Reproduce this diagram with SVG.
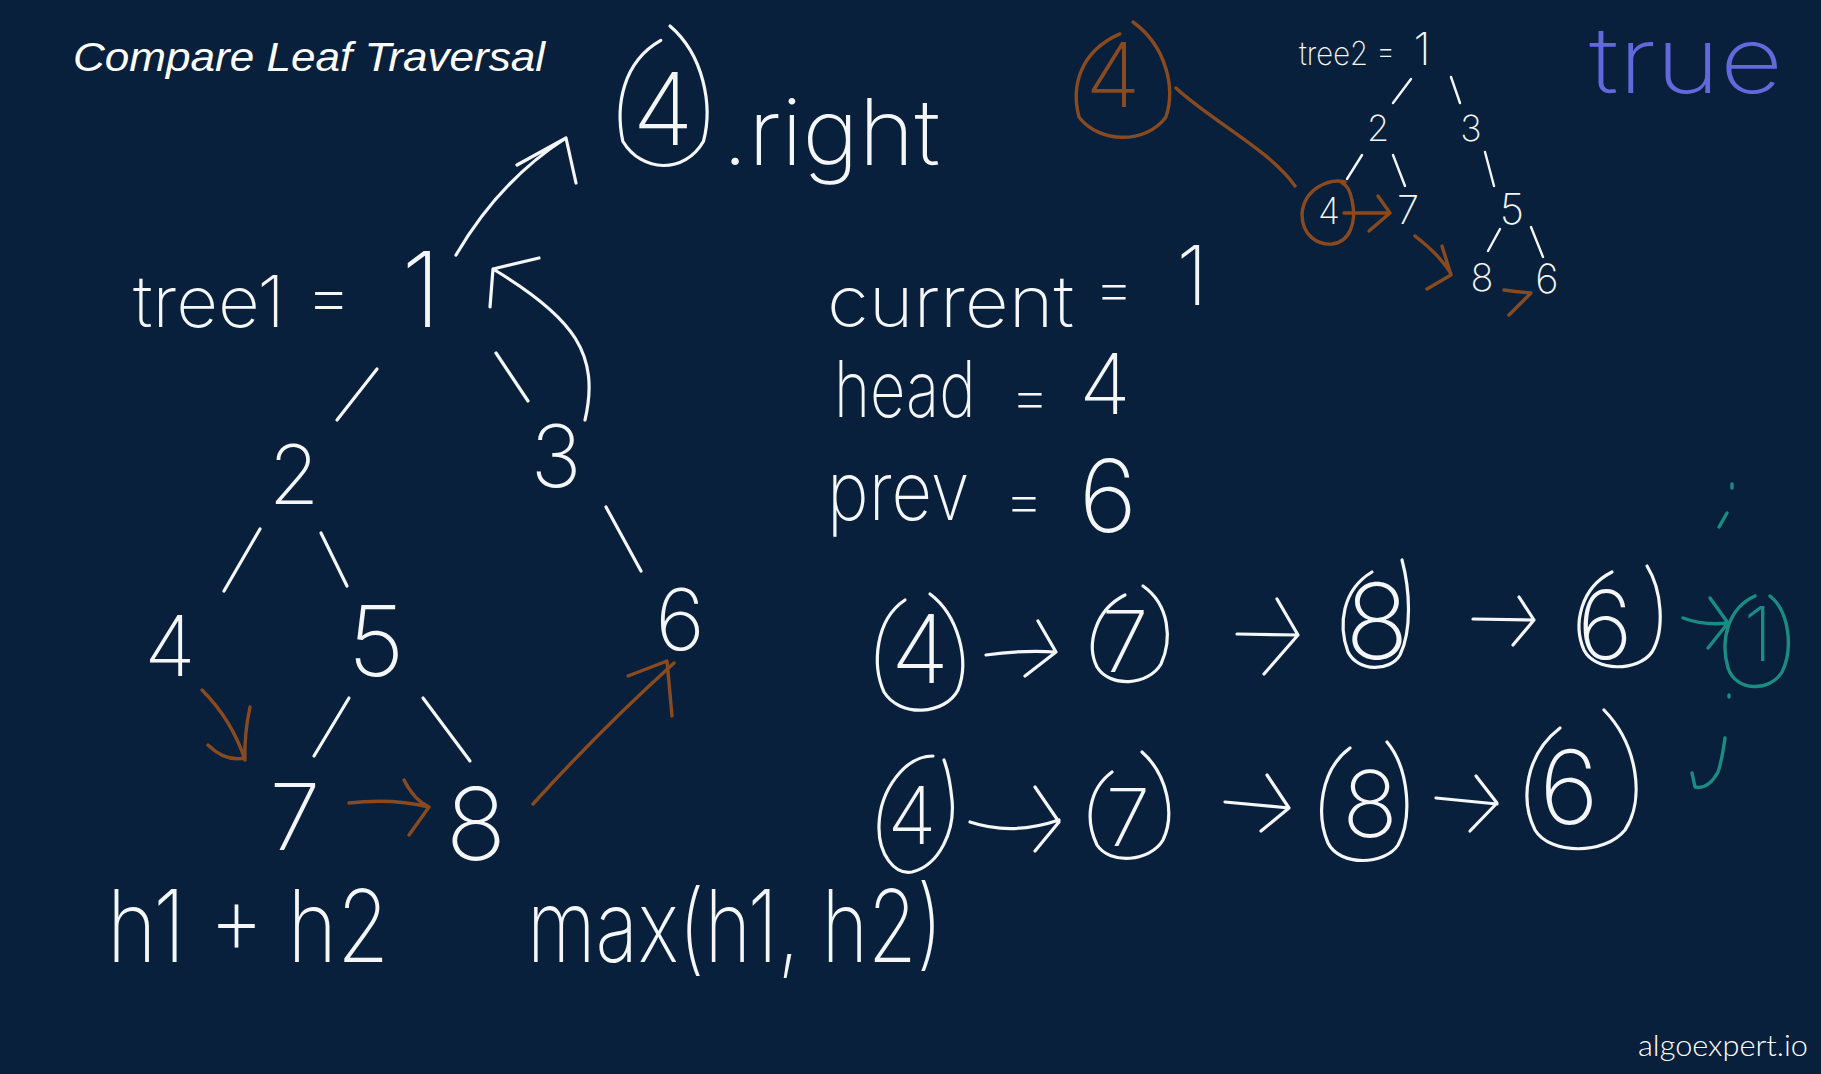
<svg xmlns="http://www.w3.org/2000/svg" width="1821" height="1074" viewBox="0 0 1821 1074">
<style>
.hw{font-family:Inter,"Open Sans","DejaVu Sans",sans-serif;font-weight:200;fill:#f4f6f8;text-anchor:middle}
.hs{font-family:Inter,"Open Sans","DejaVu Sans",sans-serif;font-weight:200;fill:#f4f6f8}
.w{fill:none;stroke:#f4f6f8;stroke-width:3.2;stroke-linecap:round;stroke-linejoin:round}
.ws{fill:none;stroke:#f4f6f8;stroke-width:2.4;stroke-linecap:round;stroke-linejoin:round}
.o{fill:none;stroke:#8a4a20;stroke-width:3.4;stroke-linecap:round;stroke-linejoin:round}
.t{fill:none;stroke:#1a8c84;stroke-width:3.4;stroke-linecap:round;stroke-linejoin:round}
</style>
<rect width="1821" height="1074" fill="#08203b"/>
<text x="73" y="71" font-family="Liberation Sans, Arial, sans-serif" font-style="italic" font-size="40" fill="#ffffff" textLength="472" lengthAdjust="spacingAndGlyphs">Compare Leaf Traversal</text>

<g id="tree1">
  <g id="t1-label"><text class="hs" x="133" y="327" font-size="72" textLength="219" lengthAdjust="spacingAndGlyphs">tree1 =</text></g>
  <g id="t1-n1"><text class="hw" x="421" y="327" font-size="104">1</text></g>
  <g id="t1-n2"><text class="hw" x="294" y="504" font-size="82">2</text></g>
  <g id="t1-n3"><text class="hw" x="556" y="487" font-size="86">3</text></g>
  <g id="t1-n4"><text class="hw" x="170" y="676" font-size="84">4</text></g>
  <g id="t1-n5"><text class="hw" x="376" y="676" font-size="98">5</text></g>
  <g id="t1-n6"><text class="hw" x="680" y="650" font-size="85">6</text></g>
  <g id="t1-n7"><text class="hw" x="295" y="850" font-size="92">7</text></g>
  <g id="t1-n8"><text class="hw" x="476" y="860" font-size="100">8</text></g>
</g>

<g id="right-expr">
  <path class="w" d="M670,26 C703.5,54.8 713,105.2 703.5,141.2 C684.5,174.3 641.8,172.9 622.8,141.2 C615.2,105.2 622.8,62 660.8,40.4"/>
  <text class="hw" x="663" y="145" font-size="100">4</text>
  <text class="hs" x="722" y="165" font-size="92" textLength="218" lengthAdjust="spacingAndGlyphs">.right</text>
</g>

<g id="vars">
  <text class="hs" x="827" y="327" font-size="72" textLength="247" lengthAdjust="spacingAndGlyphs">current</text>
  <text class="hw" x="1114" y="310" font-size="62">=</text>
  <text class="hw" x="1192" y="305" font-size="82">1</text>
  <text class="hs" transform="translate(834,417) scale(0.8,1)" x="0" y="0" font-size="78" textLength="177" lengthAdjust="spacingAndGlyphs">head</text>
  <text class="hw" x="1030" y="418" font-size="62">=</text>
  <text class="hw" x="1105" y="414" font-size="84">4</text>
  <text class="hs" transform="translate(827,520) scale(0.88,1)" x="0" y="0" font-size="82" textLength="162" lengthAdjust="spacingAndGlyphs">prev</text>
  <text class="hw" x="1024" y="522" font-size="62">=</text>
  <text class="hw" x="1108" y="532" font-size="100">6</text>
</g>

<g id="formulas">
  <text class="hs" transform="translate(107,962) scale(0.89,1)" x="0" y="0" font-size="100" textLength="317" lengthAdjust="spacingAndGlyphs">h1 + h2</text>
  <text class="hs" transform="translate(527,962) scale(0.82,1)" x="0" y="0" font-size="100" textLength="507" lengthAdjust="spacingAndGlyphs">max(h1, h2)</text>
</g>

<g id="tree2">
  <g id="t2-label"><text class="hs" x="1299" y="65" font-size="33" textLength="96" lengthAdjust="spacingAndGlyphs">tree2 =</text></g>
  <g id="t2-n1"><text class="hw" x="1422" y="65" font-size="45">1</text></g>
  <g id="t2-n2"><text class="hw" x="1378" y="141" font-size="36">2</text></g>
  <g id="t2-n3"><text class="hw" x="1471" y="141" font-size="36">3</text></g>
  <g id="t2-n4"><text class="hw" x="1329" y="224" font-size="36">4</text>
    <path class="o" d="M1345,182 C1330,178 1304,188 1302,214 C1302,236 1318,245 1332,244 C1350,242 1357,222 1352,200 C1350,190 1347,185 1342,183"/></g>
  <g id="t2-n7"><text class="hw" x="1408" y="224" font-size="40">7</text></g>
  <g id="t2-n5"><text class="hw" x="1512" y="224" font-size="42">5</text></g>
  <g id="t2-n8"><text class="hw" x="1482" y="291" font-size="38">8</text></g>
  <g id="t2-n6"><text class="hw" x="1547" y="293" font-size="40">6</text></g>
  <g id="orange-4">
    <path class="o" d="M1133,22 C1165.8,45.8 1176,87.5 1165.8,117.2 C1145.4,144.6 1099.5,143.4 1079.1,117.2 C1071,87.5 1079.1,51.8 1119.9,33.9"/>
    <text class="hw" x="1113" y="107" font-size="90" style="fill:#8a4a20">4</text>
  </g>
</g>

<g id="true-label"><text x="1589" y="93" font-family="Inter, 'Open Sans', sans-serif" font-weight="200" font-size="92" fill="#6169dc" textLength="194" lengthAdjust="spacingAndGlyphs">true</text></g>

<g id="list1">
  <g id="l1-4"><path class="w" d="M930,594 C958,615 970,660 958,690 C945,715 900,718 884,692 C872,665 875,620 905,600"/><text class="hw" x="920" y="683" font-size="95">4</text></g>
  <g id="l1-7"><path class="w" d="M1143,586 C1170,605 1172,640 1161,664 C1148,686 1110,688 1097,667 C1086,645 1095,610 1125,595"/><text class="hw" x="1125" y="672" font-size="85">7</text></g>
  <g id="l1-8"><path class="w" d="M1402,560 C1410,590 1412,630 1400,655 C1390,672 1358,672 1348,652 C1338,625 1342,590 1372,572"/><text class="hw" x="1377" y="659" font-size="105">8</text></g>
  <g id="l1-6"><path class="w" d="M1647,566 C1662,590 1665,630 1652,652 C1638,672 1595,672 1584,650 C1573,625 1580,588 1612,572"/><text class="hw" x="1605" y="659" font-size="95">6</text></g>
  <g id="l1-1"><path class="t" d="M1770,596 C1790,612 1793,650 1782,672 C1770,692 1736,692 1728,668 C1720,640 1728,608 1755,596"/><text class="hw" x="1758" y="661" font-size="75" style="fill:#1a8c84">1</text></g>
</g>

<g id="list2">
  <g id="l2-4"><path class="w" d="M933,756 C905,756 880,790 879,825 C878,855 895,875 912,872 C940,865 955,830 952,800 C950,780 947,768 944,760"/><text class="hw" x="912" y="844" font-size="80">4</text></g>
  <g id="l2-7"><path class="w" d="M1142,752 C1168,775 1175,815 1163,840 C1150,862 1110,865 1097,845 C1085,820 1088,790 1112,772"/><text class="hw" x="1128" y="846" font-size="80">7</text></g>
  <g id="l2-8"><path class="w" d="M1387,742 C1410,770 1412,820 1398,845 C1385,865 1340,867 1328,843 C1316,815 1320,770 1350,748"/><text class="hw" x="1370" y="837" font-size="92">8</text></g>
  <g id="l2-6"><path class="w" d="M1604,710 C1638,745 1645,800 1625,830 C1605,855 1550,855 1535,830 C1520,800 1525,755 1560,728"/><text class="hw" x="1569" y="824" font-size="102">6</text></g>
</g>

<g id="connectors">
  <path class="w" d="M377,369 L337,420"/>
  <path class="w" d="M496,353 L528,401"/>
  <path class="w" d="M260,529 L224,591"/>
  <path class="w" d="M321,533 L347,586"/>
  <path class="w" d="M606,507 L641,571"/>
  <path class="w" d="M349,698 L314,756"/>
  <path class="w" d="M423,698 L470,761"/>
  <path class="w" d="M456,255 Q500,180 566,138 M517,165 L566,138 L576,183"/>
  <path class="w" d="M585,420 C600,355 575,318 493,269 M539,258 L493,269 L490,307"/>
  <path class="o" d="M202,690 Q232,720 245,760 M208,745 Q225,762 245,758 M250,707 Q244,735 245,760"/>
  <path class="o" d="M349,803 Q392,798 429,807 M404,780 Q414,800 429,807 L409,835"/>
  <path class="o" d="M533,804 Q600,730 674,663 M628,676 L667,661 L672,716"/>

  <path class="ws" d="M1411,79 L1393,103"/>
  <path class="ws" d="M1451,77 L1460,103"/>
  <path class="ws" d="M1362,155 L1347,179"/>
  <path class="ws" d="M1393,155 L1405,186"/>
  <path class="ws" d="M1485,152 L1494,186"/>
  <path class="ws" d="M1500,229 L1488,251"/>
  <path class="ws" d="M1531,227 L1543,257"/>
  <path class="o" d="M1344,213 L1390,213 M1378,196 L1390,213 L1369,231"/>
  <path class="o" d="M1415,236 Q1440,255 1451,274 M1442,246 L1451,275 L1427,289"/>
  <path class="o" d="M1504,290 Q1518,292 1531,293 L1509,315"/>
  <path class="o" d="M1176,88 C1210,120 1270,150 1295,186"/>

  <path class="w" d="M986,655 Q1020,650 1056,652 M1038,621 L1056,652 L1025,676"/>
  <path class="w" d="M1237,634 L1298,635 M1277,599 L1298,635 L1264,674"/>
  <path class="w" d="M1473,619 L1534,620 M1519,597 L1534,620 L1513,645"/>
  <path class="t" d="M1683,618 Q1705,626 1728,623 M1710,598 L1728,623 L1708,648"/>
  <path class="w" d="M970,822 Q1012,836 1059,820 M1035,787 L1059,822 L1035,851"/>
  <path class="w" d="M1225,802 L1289,808 M1267,775 L1289,808 L1261,831"/>
  <path class="w" d="M1436,798 L1497,804 M1476,776 L1497,803 L1470,831"/>
</g>

<g id="teal-marks">
  <path class="t" d="M1732,484 L1732,488"/>
  <path class="t" d="M1727,513 L1719,527"/>
  <path class="t" d="M1729,695 L1729,697"/>
  <path class="t" d="M1725,738 Q1722,760 1718,772 Q1708,790 1695,787 L1692,773"/>
</g>

<text x="1638" y="1056" font-family="Lato, 'Open Sans', sans-serif" font-weight="300" font-size="29" fill="#ffffff" textLength="170" lengthAdjust="spacingAndGlyphs">algoexpert.io</text>
</svg>
